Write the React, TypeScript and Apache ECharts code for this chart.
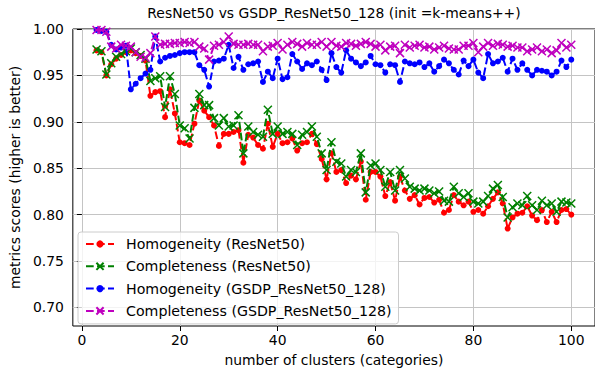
import React, { useEffect, useRef } from "react";
import * as echarts from "echarts";

const clusters = [
  3, 4, 5, 6, 7, 8, 9, 10, 11, 12, 13, 14, 15, 16, 17, 18, 19, 20, 21, 22,
  23, 24, 25, 26, 27, 28, 29, 30, 31, 32, 33, 34, 35, 36, 37, 38, 39, 40, 41, 42,
  43, 44, 45, 46, 47, 48, 49, 50, 51, 52, 53, 54, 55, 56, 57, 58, 59, 60, 61, 62,
  63, 64, 65, 66, 67, 68, 69, 70, 71, 72, 73, 74, 75, 76, 77, 78, 79, 80, 81, 82,
  83, 84, 85, 86, 87, 88, 89, 90, 91, 92, 93, 94, 95, 96, 97, 98, 99, 100,
];

const homoResNet = [
  0.977, 0.975, 0.95, 0.962, 0.968, 0.972, 0.975, 0.977, 0.974, 0.971, 0.966, 0.928, 0.932, 0.933, 0.905, 0.935, 0.909, 0.878, 0.877, 0.875,
  0.898, 0.923, 0.912, 0.905, 0.896, 0.874, 0.887, 0.887, 0.889, 0.891, 0.856, 0.886, 0.883, 0.875, 0.871, 0.898, 0.873, 0.887, 0.877, 0.878,
  0.882, 0.869, 0.877, 0.878, 0.887, 0.876, 0.86, 0.838, 0.866, 0.846, 0.848, 0.834, 0.842, 0.838, 0.857, 0.816, 0.846, 0.846, 0.841, 0.82,
  0.835, 0.815, 0.841, 0.826, 0.817, 0.821, 0.811, 0.818, 0.819, 0.813, 0.816, 0.802, 0.805, 0.821, 0.814, 0.81, 0.814, 0.803, 0.805, 0.801,
  0.809, 0.817, 0.824, 0.812, 0.785, 0.797, 0.801, 0.802, 0.809, 0.799, 0.794, 0.805, 0.792, 0.803, 0.792, 0.805, 0.806, 0.8,
];

const compResNet = [
  0.978, 0.976, 0.951, 0.963, 0.97, 0.973, 0.976, 0.979, 0.975, 0.972, 0.968, 0.944, 0.947, 0.949, 0.916, 0.949, 0.93, 0.896, 0.893, 0.882,
  0.915, 0.93, 0.918, 0.918, 0.904, 0.896, 0.904, 0.895, 0.896, 0.907, 0.866, 0.895, 0.889, 0.886, 0.884, 0.913, 0.887, 0.895, 0.887, 0.889,
  0.887, 0.875, 0.886, 0.889, 0.895, 0.884, 0.866, 0.848, 0.878, 0.857, 0.855, 0.841, 0.848, 0.846, 0.866, 0.824, 0.853, 0.855, 0.848, 0.83,
  0.846, 0.826, 0.848, 0.839, 0.83, 0.828, 0.826, 0.828, 0.826, 0.823, 0.825, 0.815, 0.814, 0.83, 0.823, 0.819, 0.823, 0.814, 0.812, 0.814,
  0.82, 0.828, 0.832, 0.819, 0.797, 0.808, 0.812, 0.81, 0.82, 0.81, 0.805, 0.815, 0.81, 0.812, 0.803, 0.814, 0.813, 0.812,
];

const homoGSDP = [
  0.999, 0.998, 0.997, 0.983, 0.978, 0.98, 0.982, 0.935, 0.941, 0.947, 0.952, 0.956, 0.992, 0.965, 0.969, 0.971, 0.972, 0.974, 0.975, 0.975,
  0.975, 0.961, 0.956, 0.938, 0.965, 0.966, 0.968, 0.983, 0.958, 0.97, 0.956, 0.962, 0.963, 0.965, 0.943, 0.954, 0.947, 0.968, 0.946, 0.948,
  0.973, 0.965, 0.957, 0.963, 0.961, 0.965, 0.956, 0.945, 0.974, 0.959, 0.953, 0.977, 0.968, 0.964, 0.96, 0.964, 0.971, 0.962, 0.961, 0.953,
  0.962, 0.961, 0.943, 0.965, 0.963, 0.962, 0.964, 0.959, 0.963, 0.954, 0.96, 0.967, 0.963, 0.956, 0.951, 0.966, 0.96, 0.967, 0.953, 0.947,
  0.973, 0.963, 0.965, 0.969, 0.954, 0.968, 0.956, 0.963, 0.956, 0.95, 0.956, 0.955, 0.954, 0.95, 0.954, 0.966, 0.959, 0.967,
];

const compGSDP = [
  0.999, 0.999, 0.997, 0.981, 0.979, 0.983, 0.982, 0.981, 0.975, 0.97, 0.969, 0.974, 0.992, 0.983, 0.984, 0.984, 0.985, 0.985, 0.986, 0.985,
  0.986, 0.981, 0.979, 0.967, 0.982, 0.983, 0.986, 0.992, 0.984, 0.983, 0.983, 0.984, 0.983, 0.983, 0.976, 0.981, 0.982, 0.985, 0.978, 0.983,
  0.986, 0.984, 0.981, 0.985, 0.983, 0.983, 0.986, 0.981, 0.986, 0.982, 0.981, 0.985, 0.984, 0.982, 0.984, 0.986, 0.984, 0.981, 0.983, 0.977,
  0.981, 0.982, 0.974, 0.983, 0.98, 0.982, 0.983, 0.98, 0.981, 0.978, 0.98, 0.982, 0.979, 0.978, 0.978, 0.982, 0.982, 0.985, 0.975, 0.981,
  0.985, 0.982, 0.984, 0.983, 0.981, 0.982, 0.98, 0.98, 0.976, 0.978, 0.98, 0.976, 0.978, 0.974, 0.977, 0.985, 0.98, 0.983,
];

const yTicks = [0.7, 0.75, 0.8, 0.85, 0.9, 0.95, 1.0];
const xTicks = [0, 20, 40, 60, 80, 100];

const seriesNames = [
  "Homogeneity (ResNet50)",
  "Completeness (ResNet50)",
  "Homogeneity (GSDP_ResNet50_128)",
  "Completeness (GSDP_ResNet50_128)",
];

const X_SYMBOL = "path://M0,0L10,10M10,0L0,10";
const FONT = "DejaVu Sans";
const FS = 13.9;

export default function App() {
  const ref = useRef<HTMLDivElement>(null);
  useEffect(() => {
    const chart = echarts.init(ref.current!, null, { renderer: "svg" });
    const pair = (ys: number[]) => clusters.map((x, i) => [x, ys[i]]);
    const mk = (name: string, ys: number[], color: string, isX: boolean, z: number) => ({
      name,
      type: "line",
      data: pair(ys),
      z,
      symbol: isX ? X_SYMBOL : "circle",
      symbolSize: isX ? 8 : 6,
      showSymbol: true,
      clip: true,
      lineStyle: { color, width: 2, type: [7.7, 3.3] },
      itemStyle: isX
        ? { color, borderColor: color, borderWidth: 1.5 }
        : { color, borderWidth: 0 },
      emphasis: { disabled: true },
    });
    chart.setOption({
      animation: false,
      backgroundColor: "#ffffff",
      title: {
        text: "ResNet50 vs GSDP_ResNet50_128 (init =k-means++)",
        left: 334,
        top: 6,
        textAlign: "center",
        padding: 0,
        textStyle: { fontSize: FS, fontWeight: "normal", color: "#000", fontFamily: FONT },
      },
      grid: {
        left: 72,
        top: 29,
        width: 525.5,
        height: 298,
        show: true,
        borderColor: "#000",
        borderWidth: 1,
        backgroundColor: "transparent",
      },
      legend: {
        orient: "vertical",
        left: 78,
        top: 232,
        itemWidth: 28,
        itemHeight: 9,
        itemGap: 8.3,
        padding: [5, 7, 6, 7],
        backgroundColor: "rgba(255,255,255,0.8)",
        borderColor: "#cccccc",
        borderWidth: 1,
        borderRadius: 3,
        textStyle: { fontSize: 14.2, color: "#000", fontFamily: FONT, padding: [0, 0, 0, 7] },
        data: seriesNames,
      },
      xAxis: {
        type: "value",
        min: -1.85,
        max: 104.85,
        name: "number of clusters (categories)",
        nameLocation: "middle",
        nameGap: 27,
        nameTextStyle: { fontSize: FS, color: "#000", fontFamily: FONT },
        axisLine: { show: false },
        axisTick: { show: true, customValues: xTicks, length: 5, lineStyle: { color: "#000", width: 1 } },
        axisLabel: { customValues: xTicks, fontSize: FS, color: "#000", fontFamily: FONT, margin: 7 },
        splitLine: { show: true, lineStyle: { color: "#c4c4c4", width: 1 } },
      },
      yAxis: {
        type: "value",
        min: 0.68,
        max: 1.0,
        name: "metrics scores (higher is better)",
        nameLocation: "middle",
        nameGap: 47,
        nameTextStyle: { fontSize: FS, color: "#000", fontFamily: FONT },
        axisLine: { show: false },
        axisTick: { show: true, customValues: yTicks, length: 5, lineStyle: { color: "#000", width: 1 } },
        axisLabel: {
          customValues: yTicks,
          fontSize: FS,
          color: "#000",
          fontFamily: FONT,
          margin: 9,
          formatter: (v: number) => v.toFixed(2),
        },
        splitLine: { show: true, lineStyle: { color: "#c4c4c4", width: 1 } },
      },
      series: [
        mk(seriesNames[0], homoResNet, "#ff0000", false, 2),
        mk(seriesNames[1], compResNet, "#008000", true, 3),
        mk(seriesNames[2], homoGSDP, "#0000ff", false, 4),
        mk(seriesNames[3], compGSDP, "#bf00bf", true, 5),
      ],
    });
    return () => chart.dispose();
  }, []);
  return (
    <div
      ref={ref}
      style={{ position: "absolute", left: 0, top: 0, width: 595, height: 372 }}
    />
  );
}
